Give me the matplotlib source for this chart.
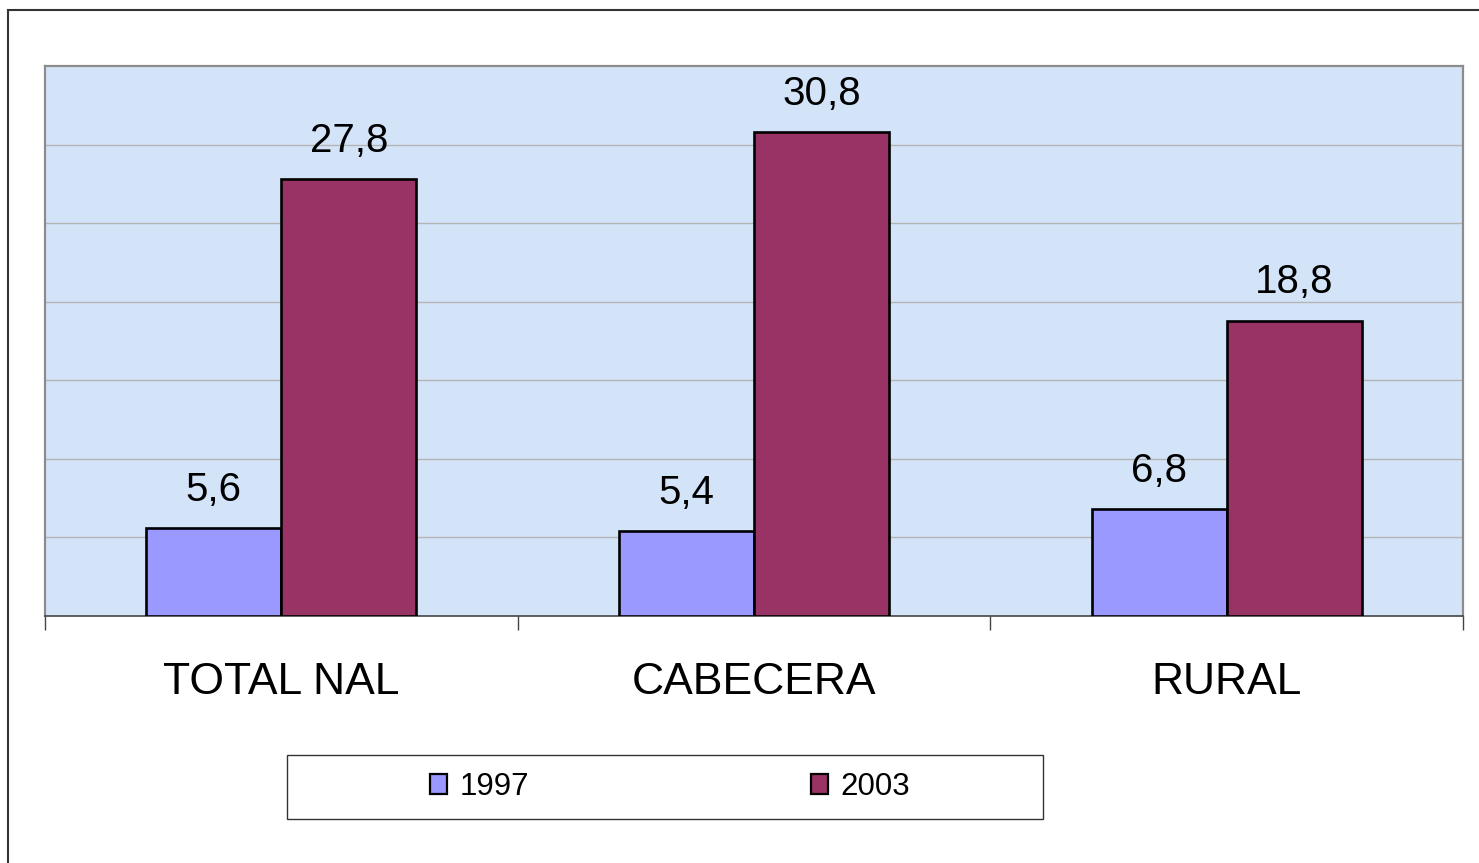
import numpy as np
import matplotlib
matplotlib.use("Agg")
import matplotlib.pyplot as plt
from matplotlib.patches import Rectangle, Patch

plt.rcParams['font.family'] = ['Liberation Sans', 'DejaVu Sans']

categories = ["TOTAL NAL", "CABECERA", "RURAL"]
years = ["1997", "2003"]
vals_1997 = [5.6, 5.4, 6.8]
vals_2003 = [27.8, 30.8, 18.8]
colors = ["#9999FF", "#993366"]

W, H = 1479, 863
fig = plt.figure(figsize=(W / 100, H / 100), dpi=100)
ax = fig.add_axes([45 / W, 1 - 616 / H, 1418 / W, 550 / H])
ax.set_facecolor("#D3E4F9")

x = np.arange(len(categories))
bw = 1 / 3.5
b1 = ax.bar(x - bw / 2, vals_1997, bw, color=colors[0], edgecolor="black", linewidth=1.9, zorder=3)
b2 = ax.bar(x + bw / 2, vals_2003, bw, color=colors[1], edgecolor="black", linewidth=1.9, zorder=3)

for bars, vals in [(b1, vals_1997), (b2, vals_2003)]:
    for rect, v in zip(bars, vals):
        ax.annotate(f"{v:.1f}".replace(".", ","),
                    (rect.get_x() + rect.get_width() / 2, rect.get_height()),
                    xytext=(0, 19.5), textcoords="offset points",
                    ha="center", va="baseline", fontsize=29, color="black")

ax.set_xlim(-0.5, len(categories) - 0.5)
ax.set_ylim(0, 35)
ax.set_yticks(np.arange(5, 35, 5))
ax.yaxis.grid(True, color="#B4B4B4", linewidth=1.0, zorder=0)
ax.tick_params(axis="y", left=False, labelleft=False)

ax.set_xticks(x)
ax.set_xticklabels(categories, fontsize=32)
ax.tick_params(axis="x", which="major", length=0, pad=33)
ax.set_xticks(np.arange(-0.5, len(categories), 1), minor=True)
ax.tick_params(axis="x", which="minor", length=10, width=1.0, color="#444444", direction="out")

for s in ["top", "left", "right"]:
    ax.spines[s].set_color("#8C8C8C")
    ax.spines[s].set_linewidth(1.6)
ax.spines["bottom"].set_color("#444444")
ax.spines["bottom"].set_linewidth(1.2)

# legend box
fig.patches.append(Rectangle((287 / W, 1 - 819 / H), 756 / W, 64 / H,
                             transform=fig.transFigure, fill=False,
                             edgecolor="#333333", linewidth=1.0))
handles = [Patch(facecolor=c, edgecolor="black", linewidth=1.6) for c in colors]
fig.legend(handles, years, loc="center", bbox_to_anchor=(670 / W, 1 - 787 / H),
           ncol=2, frameon=False, fontsize=22.5, handlelength=0.55, handleheight=0.6,
           handletextpad=0.4, columnspacing=9.0)

# outer border
fig.patches.append(Rectangle((8 / W, -0.1), 1.2, (853 / H) + 0.1,
                             transform=fig.transFigure, fill=False,
                             edgecolor="#333333", linewidth=1.5))

fig.savefig("out.png", dpi=100)
